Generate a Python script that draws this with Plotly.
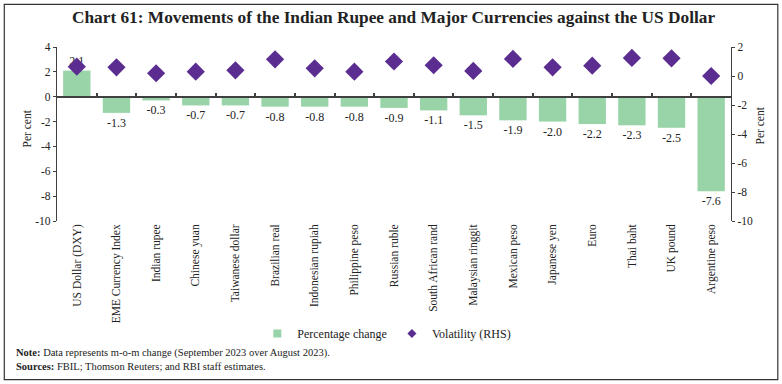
import plotly.graph_objects as go

categories = ["US Dollar (DXY)", "EME Currency Index", "Indian rupee", "Chinese yuan",
              "Taiwanese dollar", "Brazilian real", "Indonesian rupiah", "Philippine peso",
              "Russian ruble", "South African rand", "Malaysian ringgit", "Mexican peso",
              "Japanese yen", "Euro", "Thai baht", "UK pound", "Argentine peso"]
pct_change = [2.1, -1.3, -0.3, -0.7, -0.7, -0.8, -0.8, -0.8, -0.9, -1.1, -1.5, -1.9,
              -2.0, -2.2, -2.3, -2.5, -7.6]
volatility = [0.64, 0.6, 0.19, 0.3, 0.39, 1.15, 0.53, 0.3, 1.0, 0.74, 0.35, 1.18,
              0.6, 0.71, 1.25, 1.22, 0.0]
left_ticks = [4, 2, 0, -2, -4, -6, -8, -10]
right_ticks = [2, 0, -2, -4, -6, -8, -10]

FONT = "Liberation Serif"
GREEN = "#98d4a8"
PURPLE = "#5b2d90"
AX = "#404040"
TXT = "#222"

fig = go.Figure()
fig.add_trace(go.Bar(
    x=categories, y=pct_change, name="Percentage change", showlegend=False,
    marker=dict(color=GREEN, line=dict(width=0)), width=0.69,
    text=[f"{v:.1f}" for v in pct_change], textposition="outside",
    textfont=dict(family=FONT, size=12, color=TXT), cliponaxis=False,
))
fig.add_trace(go.Scatter(
    x=categories, y=volatility, name="Volatility (RHS)", mode="markers", showlegend=False,
    marker=dict(symbol="diamond", size=14, color=PURPLE),
    xaxis="x2", yaxis="y2", cliponaxis=False,
))
# legend-only entries with small swatches like the original
fig.add_trace(go.Scatter(x=[None], y=[None], name="Percentage change", mode="markers",
                         marker=dict(symbol="square", size=8, color=GREEN)))
fig.add_trace(go.Scatter(x=[None], y=[None], name="Volatility (RHS)", mode="markers",
                         marker=dict(symbol="diamond", size=7, color=PURPLE)))

L, R = 56.7, 730.7
T, B = 47.0, 220.7
W, H = 782, 384
pw, ph = R - L, B - T

def px_x(p):
    return (p - L) / pw

def px_y(p):
    return (B - p) / ph

def labels(vals):
    return [str(v).replace("\u2212", "-") for v in vals]

fig.update_layout(
    width=W, height=H,
    margin=dict(l=L, r=W - R, t=T, b=H - B, autoexpand=False),
    paper_bgcolor="white", plot_bgcolor="white",
    font=dict(family=FONT, size=11, color=TXT),
    showlegend=True,
    legend=dict(orientation="h", x=px_x(257), xanchor="left", y=px_y(333), yanchor="middle",
                font=dict(family=FONT, size=12, color=TXT), itemsizing="trace",
                itemwidth=30, bgcolor="rgba(0,0,0,0)", entrywidth=0),
    bargap=0.31,
    xaxis=dict(type="category", categoryorder="array", categoryarray=categories,
               range=[-0.5, 16.5], showline=False, showgrid=False, zeroline=False,
               automargin=False, ticks="", tickangle=-90,
               tickfont=dict(family=FONT, size=11.5, color=TXT)),
    xaxis2=dict(type="category", categoryorder="array", categoryarray=categories,
                range=[-0.5, 16.5], overlaying="x", anchor="free", position=10 / 14,
                side="bottom", showline=True, linecolor=AX, linewidth=2, automargin=False,
                showticklabels=False, ticks="inside", tickson="boundaries",
                ticklen=3, tickcolor=AX, tickwidth=1.5, showgrid=False, zeroline=False),
    yaxis=dict(range=[-10, 4], tickvals=left_ticks, ticktext=labels(left_ticks),
               showgrid=False, zeroline=False, automargin=False,
               showline=True, linecolor=AX, linewidth=1.2, ticks="outside", ticklen=3,
               tickcolor=AX, tickfont=dict(family=FONT, size=11.5, color=TXT)),
    yaxis2=dict(range=[-10, 2], tickvals=right_ticks, ticktext=labels(right_ticks),
                overlaying="y", side="right", automargin=False,
                anchor="x", showgrid=False, zeroline=False, showline=True, linecolor=AX,
                linewidth=1.2, ticks="outside", ticklen=3, tickcolor=AX,
                tickfont=dict(family=FONT, size=11.5, color=TXT)),
    shapes=[dict(type="rect", xref="paper", yref="paper",
                 x0=px_x(4), x1=px_x(777.5), y0=px_y(379), y1=px_y(4.5),
                 line=dict(color="#333", width=1.2), fillcolor="rgba(0,0,0,0)", layer="below")],
    annotations=[
        dict(text="<b>Chart 61: Movements of the Indian Rupee and Major Currencies against the US Dollar</b>",
             xref="paper", yref="paper", x=px_x(393), y=px_y(18), xanchor="center", yanchor="middle",
             showarrow=False, font=dict(family=FONT, size=17.3, color=TXT)),
        dict(text="Per cent", textangle=-90, xref="paper", yref="paper",
             x=px_x(27), y=px_y(128), xanchor="center", yanchor="middle",
             showarrow=False, font=dict(family=FONT, size=11.5, color=TXT)),
        dict(text="Per cent", textangle=-90, xref="paper", yref="paper",
             x=px_x(760), y=px_y(125), xanchor="center", yanchor="middle",
             showarrow=False, font=dict(family=FONT, size=11.5, color=TXT)),
        dict(text="<b>Note:</b> Data represents m-o-m change (September 2023 over August 2023).",
             xref="paper", yref="paper", x=px_x(14), y=px_y(352), xanchor="left", yanchor="middle",
             showarrow=False, font=dict(family=FONT, size=10.5, color=TXT)),
        dict(text="<b>Sources:</b> FBIL; Thomson Reuters; and RBI staff estimates.",
             xref="paper", yref="paper", x=px_x(14), y=px_y(366), xanchor="left", yanchor="middle",
             showarrow=False, font=dict(family=FONT, size=10.5, color=TXT)),
    ],
)

fig.write_html("out.html", config={"displayModeBar": False},
               post_script="document.body.style.margin='0';document.body.style.overflow='hidden';")
